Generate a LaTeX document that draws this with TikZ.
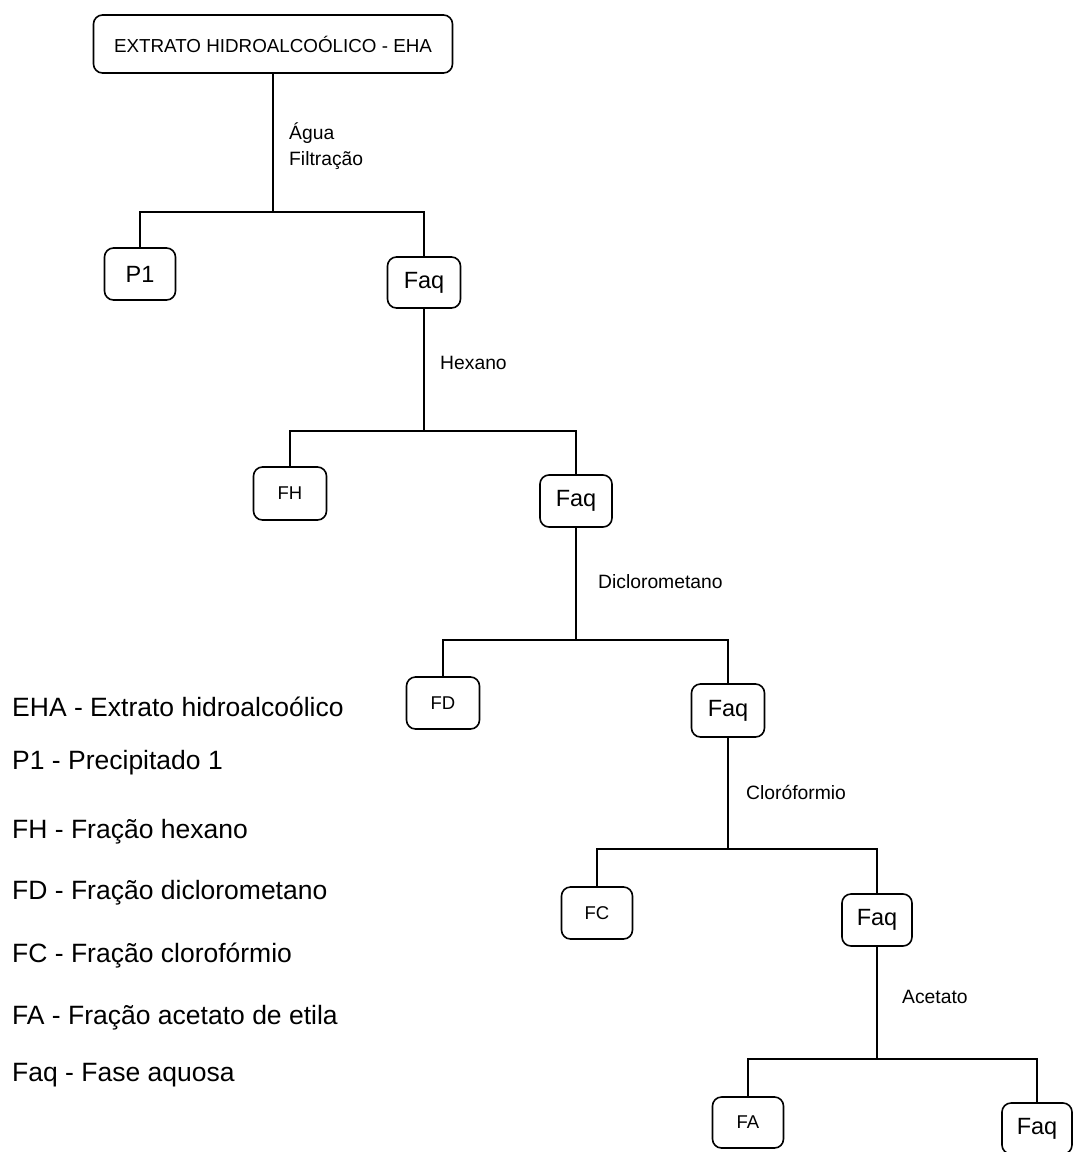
\documentclass[tikz,border=0pt]{standalone}
\usepackage{fontspec}
\setmainfont{Liberation Sans}
\begin{document}
\begin{tikzpicture}[x=1pt, y=-1pt,
  box/.style={draw, rounded corners=9pt, line width=1.6pt, inner sep=0pt},
  bigtxt/.style={font=\fontsize{23.5}{26}\selectfont},
  smalltxt/.style={font=\fontsize{18.5}{20}\selectfont},
  lbl/.style={anchor=west, inner sep=0pt, font=\fontsize{19.3}{26}\selectfont, align=left},
  legend/.style={anchor=west, inner sep=0pt, font=\fontsize{26.5}{30}\selectfont},
  link/.style={line width=1.6pt}]
\clip (0,0) rectangle (1073,1152);

% fractionation boxes
\node[box, minimum width=359pt, minimum height=58pt, font=\fontsize{18.8}{20}\selectfont] (eha) at (273,44) {EXTRATO HIDROALCOÓLICO - EHA};
\node[box, bigtxt, minimum width=71pt, minimum height=52pt] (p1) at (140,274) {P1};
\node[box, bigtxt, minimum width=73pt, minimum height=51pt] (faq1) at (424,282.5) {Faq};
\node[box, smalltxt, minimum width=73pt, minimum height=53pt] (fh) at (290,493.5) {FH};
\node[box, bigtxt, minimum width=72pt, minimum height=52pt] (faq2) at (576,501) {Faq};
\node[box, smalltxt, minimum width=73pt, minimum height=52pt] (fd) at (443,703) {FD};
\node[box, bigtxt, minimum width=73pt, minimum height=53pt] (faq3) at (728,710.5) {Faq};
\node[box, smalltxt, minimum width=71pt, minimum height=52pt] (fc) at (597,913) {FC};
\node[box, bigtxt, minimum width=70pt, minimum height=52pt] (faq4) at (877,920) {Faq};
\node[box, smalltxt, minimum width=71pt, minimum height=51pt] (fa) at (748,1122.5) {FA};
\node[box, bigtxt, minimum width=70pt, minimum height=51pt] (faq5) at (1037,1128.5) {Faq};

% junction levels
\coordinate (h1) at (0,212);
\coordinate (h2) at (0,431);
\coordinate (h3) at (0,640);
\coordinate (h4) at (0,849);
\coordinate (h5) at (0,1059);
\coordinate (j1) at (eha.south |- h1);
\coordinate (j2) at (faq1.south |- h2);
\coordinate (j3) at (faq2.south |- h3);
\coordinate (j4) at (faq3.south |- h4);
\coordinate (j5) at (faq4.south |- h5);

% connectors
\draw[link] (eha.south) -- (j1);
\draw[link] (p1.north) |- (j1) -| (faq1.north);
\draw[link] (faq1.south) -- (j2);
\draw[link] (fh.north) |- (j2) -| (faq2.north);
\draw[link] (faq2.south) -- (j3);
\draw[link] (fd.north) |- (j3) -| (faq3.north);
\draw[link] (faq3.south) -- (j4);
\draw[link] (fc.north) |- (j4) -| (faq4.north);
\draw[link] (faq4.south) -- (j5);
\draw[link] (fa.north) |- (j5) -| (faq5.north);

% step labels
\node[lbl] (l1) at (289,146) {Água\\Filtração};
\node[lbl] (l2) at (440,363) {Hexano};
\node[lbl] (l3) at (598,582) {Diclorometano};
\node[lbl] (l4) at (746,792) {Cloróformio};
\node[lbl] (l5) at (902,997) {Acetato};

% legend
\node[legend] (g1) at (12,707) {EHA - Extrato hidroalcoólico};
\node[legend] (g2) at (12,763) {P1 - Precipitado 1};
\node[legend] (g3) at (12,832) {FH - Fração hexano};
\node[legend] (g4) at (12,893) {FD - Fração diclorometano};
\node[legend] (g5) at (12,956) {FC - Fração clorofórmio};
\node[legend] (g6) at (12,1018) {FA - Fração acetato de etila};
\node[legend] (g7) at (12,1075) {Faq - Fase aquosa};
\end{tikzpicture}
\end{document}
